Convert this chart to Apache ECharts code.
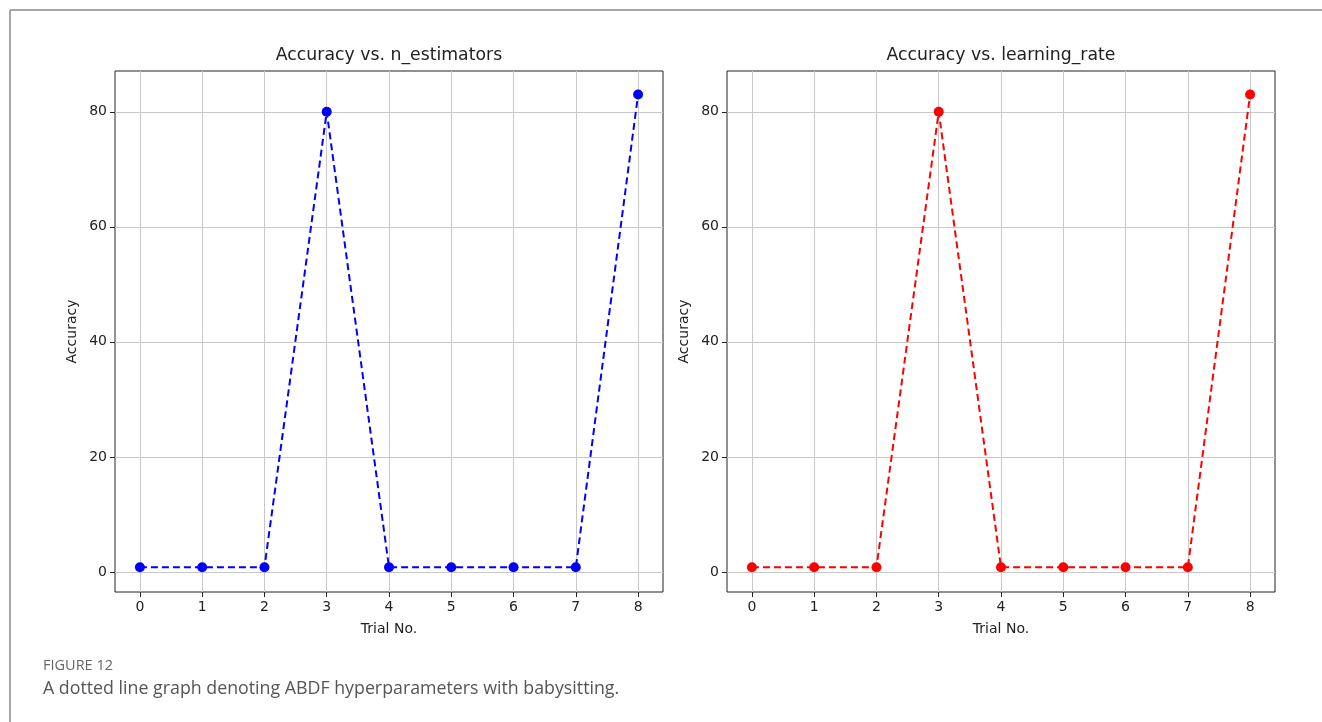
<!DOCTYPE html>
<html>
<head>
<meta charset="utf-8">
<script src="https://cdn.jsdelivr.net/npm/echarts@6/dist/echarts.min.js"></script>
<style>
html, body { margin: 0; padding: 0; background: #fff; }
#main { width: 1322px; height: 722px; }
</style>
</head>
<body>
<div id="main"></div>
<script>
// data
var trials = [0, 1, 2, 3, 4, 5, 6, 7, 8];
var accEstimators = [0.8, 0.8, 0.8, 80, 0.8, 0.8, 0.8, 0.8, 83];
var accLearningRate = [0.8, 0.8, 0.8, 80, 0.8, 0.8, 0.8, 0.8, 83];
var xTicks = [0, 1, 2, 3, 4, 5, 6, 7, 8];
var yTicks = [0, 20, 40, 60, 80];

var font = 'DejaVu Sans';

function pairs(xs, ys) {
  return xs.map(function (x, i) { return [x, ys[i]]; });
}

function xAxis(idx) {
  return {
    type: 'value', gridIndex: idx, min: -0.4, max: 8.4,
    name: 'Trial No.', nameLocation: 'middle', nameGap: 30,
    nameTextStyle: { fontFamily: font, fontSize: 14, color: '#222' },
    axisLine: { show: false, onZero: false },
    axisTick: { show: true, length: 5, customValues: xTicks, lineStyle: { color: '#222' } },
    axisLabel: { customValues: xTicks, fontFamily: font, fontSize: 14, color: '#222', margin: 8 },
    splitLine: { show: true, lineStyle: { color: '#c8c8c8', width: 1 } }
  };
}

function yAxis(idx) {
  return {
    type: 'value', gridIndex: idx, min: -3.5, max: 87.1,
    name: 'Accuracy', nameLocation: 'middle', nameGap: 36,
    nameTextStyle: { fontFamily: font, fontSize: 14, color: '#222' },
    axisLine: { show: false, onZero: false },
    axisTick: { show: true, length: 5, customValues: yTicks, lineStyle: { color: '#222' } },
    axisLabel: { customValues: yTicks, fontFamily: font, fontSize: 14, color: '#222', margin: 8 },
    splitLine: { show: true, lineStyle: { color: '#c8c8c8', width: 1 } }
  };
}

function lineSeries(idx, vals, color) {
  return {
    type: 'line', xAxisIndex: idx, yAxisIndex: idx,
    data: pairs(trials, vals),
    symbol: 'circle', symbolSize: 10,
    itemStyle: { color: color },
    lineStyle: { color: color, width: 2, type: [7, 4] },
    animation: false
  };
}

var chart = echarts.init(document.getElementById('main'));
var option = {
  backgroundColor: '#fff',
  animation: false,
  grid: [
    { left: 115, top: 71, width: 548, height: 521, show: true, borderColor: '#222', borderWidth: 1 },
    { left: 727, top: 71, width: 548, height: 521, show: true, borderColor: '#222', borderWidth: 1 }
  ],
  xAxis: [xAxis(0), xAxis(1)],
  yAxis: [yAxis(0), yAxis(1)],
  series: [
    lineSeries(0, accEstimators, '#0000ff'),
    lineSeries(1, accLearningRate, '#ff0000')
  ],
  graphic: [
    { type: 'line', shape: { x1: 10, y1: 10, x2: 1322, y2: 10 }, style: { stroke: '#8a8a8a', lineWidth: 1.5 } },
    { type: 'line', shape: { x1: 10, y1: 10, x2: 10, y2: 722 }, style: { stroke: '#8a8a8a', lineWidth: 1.5 } },
    { type: 'text', x: 389, y: 56, style: { text: 'Accuracy vs. n_estimators', align: 'center', verticalAlign: 'middle', font: '17.3px "DejaVu Sans"', fill: '#222' } },
    { type: 'text', x: 1001, y: 56, style: { text: 'Accuracy vs. learning_rate', align: 'center', verticalAlign: 'middle', font: '17.3px "DejaVu Sans"', fill: '#222' } },
    { type: 'text', x: 43, y: 666, style: { text: 'FIGURE 12', verticalAlign: 'middle', font: '14.5px "Open Sans"', fill: '#666' } },
    { type: 'text', x: 43, y: 689, style: { text: 'A dotted line graph denoting ABDF hyperparameters with babysitting.', verticalAlign: 'middle', font: '17.8px "Open Sans"', fill: '#555' } }
  ]
};
chart.setOption(option);
</script>
</body>
</html>
